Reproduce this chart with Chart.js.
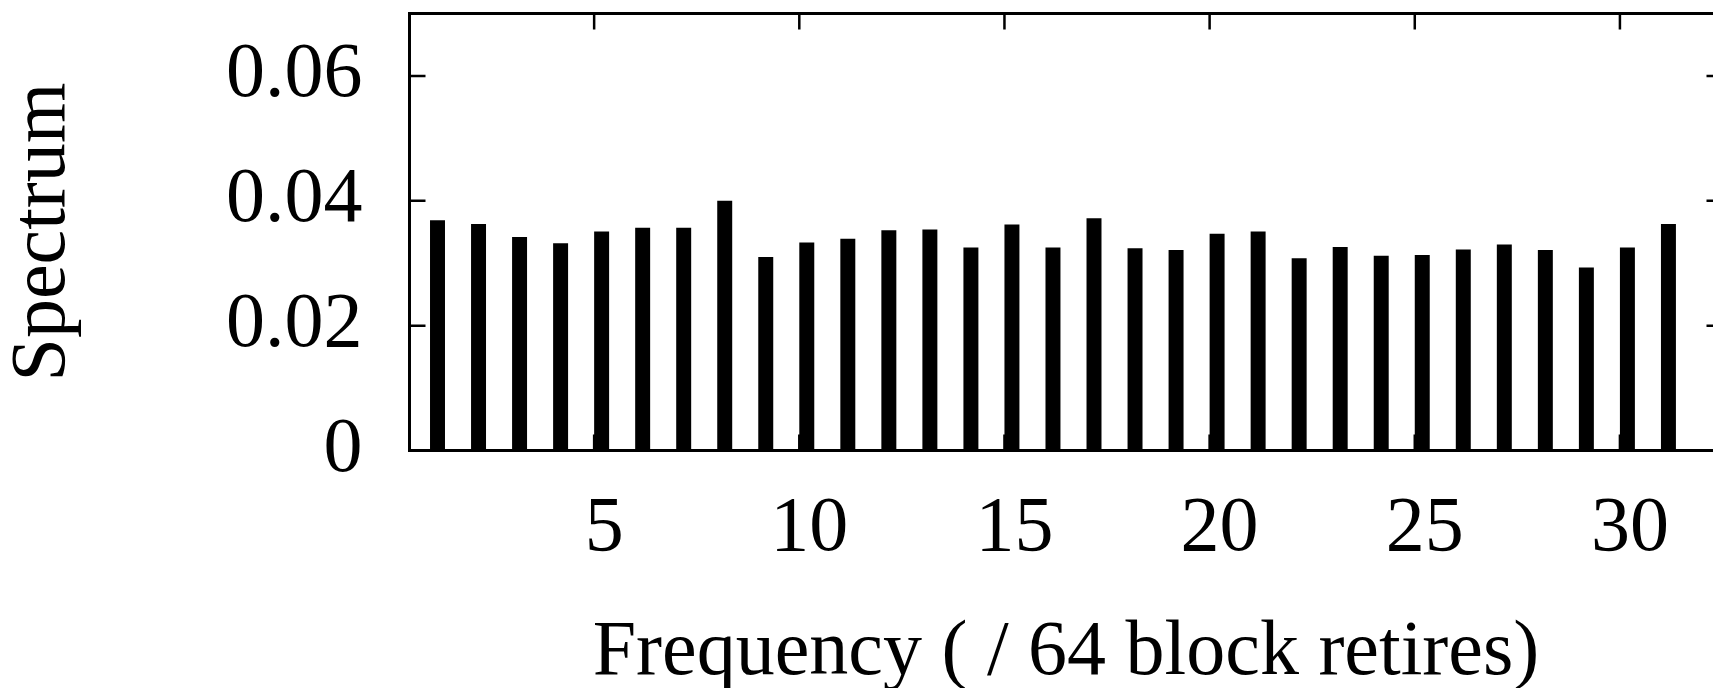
<!DOCTYPE html>
<html>
<head>
<meta charset="utf-8">
<script src="https://cdn.jsdelivr.net/npm/chart.js"></script>
<style>
  html, body { margin: 0; padding: 0; background: #fff; overflow: hidden; }
  #wrap { width: 1730px; height: 688px; }
</style>
</head>
<body>
<div id="wrap"><canvas id="spectrumChart" width="1730" height="688"></canvas></div>
<script>
// spectrum per frequency bin
const frequencies = [1, 2, 3, 4, 5, 6, 7, 8, 9, 10, 11, 12, 13, 14, 15, 16,
                     17, 18, 19, 20, 21, 22, 23, 24, 25, 26, 27, 28, 29, 30, 31];
const spectrum = [0.0369, 0.0363, 0.0342, 0.0332, 0.0351, 0.0357, 0.0357, 0.0400,
                  0.0310, 0.0333, 0.0339, 0.0353, 0.0354, 0.0325, 0.0362, 0.0325,
                  0.0372, 0.0324, 0.0321, 0.0347, 0.0351, 0.0308, 0.0326, 0.0312,
                  0.0313, 0.0322, 0.0330, 0.0321, 0.0293, 0.0325, 0.0363];
const xTicks = [5, 10, 15, 20, 25, 30];
const yTicks = [0, 0.02, 0.04, 0.06];
const yTickLabels = ['0', '0.02', '0.04', '0.06'];

const xMin = 0.5, xMax = 32.5;
const barWidth = 0.365;   // in frequency units, boxes start at the bin value
const fontFamily = "'Liberation Serif', 'Times New Roman', serif";
const fontSize = 78;
const tickLen = 16;

// keep label sizes from pushing the plot area around
function noPadding(s) {
  s.paddingLeft = s.paddingRight = s.paddingTop = s.paddingBottom = 0;
}

// frame box plus inward tick marks on all four sides
const framePlugin = {
  id: 'frame',
  beforeDatasetsDraw(chart) {
    const {ctx, chartArea: a, scales} = chart;
    ctx.save();
    ctx.strokeStyle = '#000';
    ctx.lineWidth = 2.5;
    ctx.beginPath();
    xTicks.forEach(v => {
      const px = scales.x.getPixelForValue(v);
      ctx.moveTo(px, a.bottom); ctx.lineTo(px, a.bottom - tickLen);
      ctx.moveTo(px, a.top); ctx.lineTo(px, a.top + tickLen);
    });
    yTicks.forEach(v => {
      const py = scales.y.getPixelForValue(v);
      ctx.moveTo(a.left, py); ctx.lineTo(a.left + tickLen, py);
      ctx.moveTo(a.right, py); ctx.lineTo(a.right - tickLen, py);
    });
    ctx.stroke();
    ctx.restore();
  },
  afterDatasetsDraw(chart) {
    const {ctx, chartArea: a} = chart;
    ctx.save();
    ctx.strokeStyle = '#000';
    ctx.lineWidth = 3;
    ctx.strokeRect(a.left, a.top, a.right - a.left, a.bottom - a.top);
    ctx.restore();
  }
};

const ctx = document.getElementById('spectrumChart').getContext('2d');
const chart = new Chart(ctx, {
  type: 'bar',
  data: {
    datasets: [{
      label: 'Spectrum',
      data: frequencies.map((f, i) => ({x: f, y: spectrum[i]})),
      xAxisID: 'xb',
      backgroundColor: '#000',
      borderWidth: 0,
      barPercentage: barWidth,
      categoryPercentage: 1
    }]
  },
  options: {
    responsive: false,
    animation: false,
    layout: { padding: { top: 13.5, right: 7.5, left: 0, bottom: 0 } },
    plugins: { legend: { display: false }, tooltip: { enabled: false } },
    scales: {
      x: {
        type: 'linear',
        position: 'bottom',
        offset: false,
        min: xMin,
        max: xMax,
        grid: { display: false, drawTicks: false },
        border: { display: false },
        afterBuildTicks: s => { s.ticks = xTicks.map(v => ({value: v})); },
        afterFit: s => { s.height = 237.5; noPadding(s); },
        ticks: {
          color: '#000',
          padding: 32,
          labelOffset: 10,
          maxRotation: 0,
          font: { family: fontFamily, size: fontSize },
          callback: v => String(v)
        },
        title: {
          display: true,
          text: 'Frequency ( / 64 block retires)',
          color: '#000',
          font: { family: fontFamily, size: fontSize, lineHeight: 1 },
          padding: { top: 0, bottom: -5 }
        }
      },
      // bars sit on this hidden copy of the frequency axis, shifted by half a box
      xb: {
        type: 'linear',
        display: false,
        offset: false,
        min: xMin - barWidth / 2,
        max: xMax - barWidth / 2,
        afterFit: noPadding
      },
      y: {
        min: 0,
        max: 0.07,
        grid: { display: false, drawTicks: false },
        border: { display: false },
        afterBuildTicks: s => { s.ticks = yTicks.map(v => ({value: v})); },
        afterFit: s => { s.width = 409.5; noPadding(s); },
        ticks: {
          color: '#000',
          padding: 47,
          font: { family: fontFamily, size: fontSize },
          callback: v => yTickLabels[yTicks.indexOf(v)]
        },
        title: {
          display: true,
          text: 'Spectrum',
          color: '#000',
          font: { family: fontFamily, size: fontSize, lineHeight: 1 },
          padding: { top: 5, bottom: 0 }
        }
      }
    }
  },
  plugins: [framePlugin]
});
</script>
</body>
</html>
